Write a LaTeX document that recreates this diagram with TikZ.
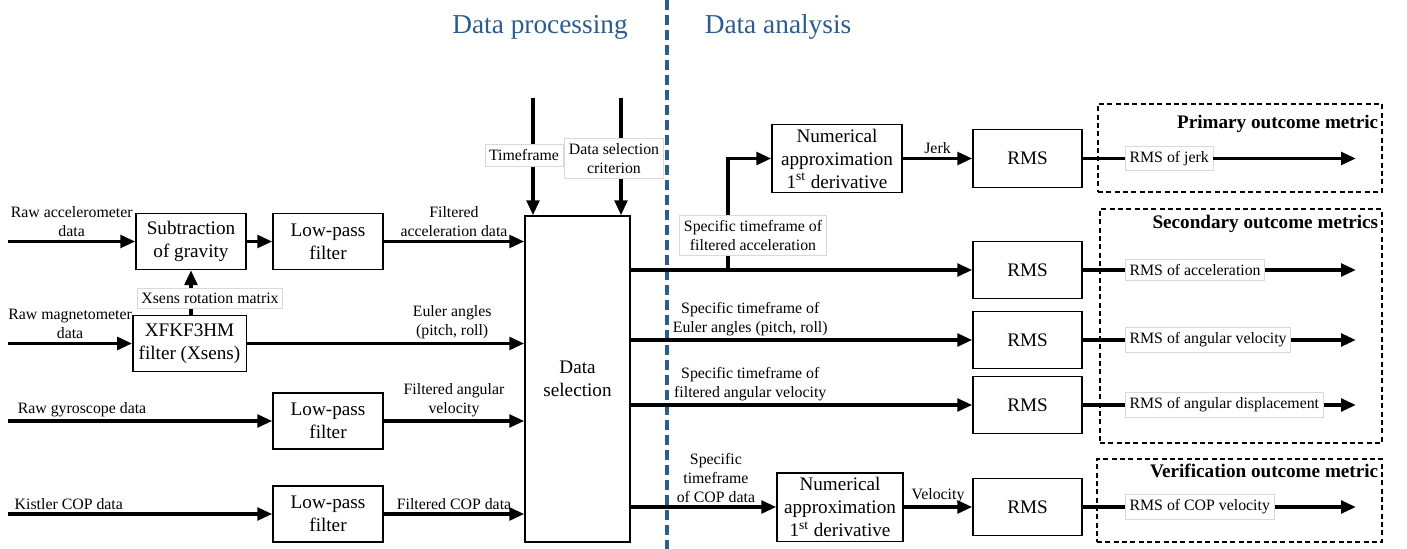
\documentclass[tikz,border=0pt]{standalone}
\usepackage{fontspec}
\setmainfont{Liberation Serif}
\usetikzlibrary{arrows.meta,positioning}
\definecolor{divblue}{RGB}{44,93,142}
\newcommand{\bxfont}{\rmfamily\fontsize{11.5}{13.8}\selectfont}
\newcommand{\lbfont}{\rmfamily\fontsize{9.5}{11.4}\selectfont}

\begin{document}
\begin{tikzpicture}[
    x=0.6pt, y=-0.6pt,
    box/.style={rectangle, draw, line width=0.8pt, align=center, inner sep=1pt, font=\bxfont, minimum width=66pt, minimum height=33.5pt},
    selbox/.style={box, minimum width=63pt, minimum height=195.6pt},
    numbox/.style={box, minimum width=78pt, minimum height=41pt},
    rmsbox/.style={box, minimum width=65.4pt, minimum height=34.5pt},
    lbl/.style={align=center, font=\lbfont, inner sep=1.5pt},
    tag/.style={lbl, draw=gray!30, line width=0.5pt, fill=white, inner xsep=2.5pt, inner ysep=3pt},
    metricbox/.style={draw, line width=0.8pt, dash pattern=on 3pt off 2pt, inner sep=0pt},
    grouptitle/.style={font=\bfseries\bxfont, anchor=north east, inner xsep=2.5pt, inner ysep=4pt},
    phase/.style={font=\rmfamily\fontsize{16.4}{19}\selectfont, text=divblue},
    divider/.style={draw=divblue, line width=2.4pt, dash pattern=on 6pt off 3pt},
    line/.style={line width=2.3pt},
    arrow/.style={-{Triangle[length=9pt,width=7.5pt]}, line width=2.3pt}
]
\useasboundingbox (0,0) rectangle (1407,549);

% Titles and divider
\node[phase] (dproc) at (540,27) {Data processing};
\node[phase] (danal) at (778,27) {Data analysis};
\coordinate (divtop) at (667,0);
\coordinate (divbot) at (667,549);
\draw[divider] (divtop) -- (divbot);

% Inputs
\coordinate (inacc) at (8,241.5);
\coordinate (inmag) at (8,343.5);
\coordinate (ingyr) at (8,421);
\coordinate (incop) at (8,514);

% Processing
\node[box] (sub) at (191,241.5) {Subtraction\\of gravity};
\node[box] (lp1) at (328,241.5) {Low-pass\\filter};
\node[box, minimum width=68pt] (xf) at (189.5,343.5) {XFKF3HM\\filter (Xsens)};
\node[box] (lp2) at (328,421) {Low-pass\\filter};
\node[box] (lp3) at (328,514) {Low-pass\\filter};
\node[tag] (xsrot) at (210,298.5) {Xsens rotation matrix};

% Data selection
\node[selbox] (sel) at (577.5,379) {Data\\selection};
\coordinate (tftop) at (533,98);
\coordinate (dctop) at (621,98);
\node[tag] (tf) at (524,155.5) {Timeframe};
\node[tag] (dc) at (614,158.5) {Data selection\\criterion};

% Analysis
\node[numbox] (num1) at (837,158.5) {Numerical\\approximation\\1\textsuperscript{st} derivative};
\node[numbox, minimum width=75.6pt] (num2) at (840,507) {Numerical\\approximation\\1\textsuperscript{st} derivative};
\node[rmsbox] (rms1) at (1027.5,158.5) {RMS};
\node[rmsbox] (rms2) at (1027.5,270) {RMS};
\node[rmsbox] (rms3) at (1027.5,340) {RMS};
\node[rmsbox] (rms4) at (1027.5,405) {RMS};
\node[rmsbox] (rms5) at (1027.5,507) {RMS};
\node[tag] (spacc) at (753,235.5) {Specific timeframe of\\filtered acceleration};
\coordinate (br) at (728,270);

% Outcome metrics
\node[metricbox, minimum width=170.4pt, minimum height=52.8pt] (prim) at (1240,148) {};
\node[metricbox, minimum width=169.2pt, minimum height=140.4pt] (secd) at (1241,326) {};
\node[metricbox, minimum width=171pt, minimum height=49.8pt] (verif) at (1239.5,500.5) {};
\node[grouptitle, yshift=-3pt] at (prim.north east) {Primary outcome metric};
\node[grouptitle] at (secd.north east) {Secondary outcome metrics};
\node[grouptitle, inner ysep=3pt] at (verif.north east) {Verification outcome metric};
\node[tag, anchor=west] (o1) at (1125,158.5) {RMS of jerk};
\node[tag, anchor=west] (o2) at (1125,270) {RMS of acceleration};
\node[tag, anchor=west] (o3) at (1125,340) {RMS of angular velocity};
\node[tag, anchor=west] (o4) at (1125,405) {RMS of angular displacement};
\node[tag, anchor=west] (o5) at (1125,507) {RMS of COP velocity};
\coordinate (e1) at (1356,158.5);
\coordinate (e2) at (1356,270);
\coordinate (e3) at (1356,340);
\coordinate (e4) at (1356,405);
\coordinate (e5) at (1356,507);

% Arrows: processing
\draw[arrow] (inacc) -- node[lbl, above] {Raw accelerometer\\data} (sub);
\draw[arrow] (sub) -- (lp1);
\draw[arrow] (lp1) -- node[lbl, above] {Filtered\\acceleration data} (lp1 -| sel.west);
\draw[arrow] (inmag) -- node[lbl, above] {Raw magnetometer\\data} (xf);
\draw[line] (xf.north -| sub) -- (xsrot.south -| sub);
\draw[arrow] (xsrot.north -| sub) -- (sub.south);
\draw[arrow] (xf) -- node[lbl, above, pos=0.74] {Euler angles\\(pitch, roll)} (xf -| sel.west);
\draw[arrow] (ingyr) -- node[lbl, above, pos=0.28] {Raw gyroscope data} (lp2);
\draw[arrow] (lp2) -- node[lbl, above] {Filtered angular\\velocity} (lp2 -| sel.west);
\draw[arrow] (incop) -- node[lbl, above, pos=0.23] {Kistler COP data} (lp3);
\draw[arrow] (lp3) -- node[lbl, above] {Filtered COP data} (lp3 -| sel.west);
\draw[line] (tftop) -- (tftop |- tf.north);
\draw[arrow] (tftop |- tf.south) -- (tftop |- sel.north);
\draw[line] (dctop) -- (dctop |- dc.north);
\draw[arrow] (dctop |- dc.south) -- (dctop |- sel.north);

% Arrows: analysis
\draw[arrow] (sel.east |- rms2) -- (rms2);
\draw[line] (br) -- (br |- spacc.south);
\draw[arrow] (br |- spacc.north) |- (num1);
\draw[arrow] (num1) -- node[lbl, above] {Jerk} (rms1);
\draw[arrow] (sel.east |- rms3) -- node[lbl, above, pos=0.35] {Specific timeframe of\\Euler angles (pitch, roll)} (rms3);
\draw[arrow] (sel.east |- rms4) -- node[lbl, above, pos=0.35] {Specific timeframe of\\filtered angular velocity} (rms4);
\draw[arrow] (sel.east |- num2) -- node[lbl, above, pos=0.585] {Specific\\timeframe\\of COP data} (num2);
\draw[arrow] (num2) -- node[lbl, above] {Velocity} (rms5);

% Outputs
\foreach \i in {1,...,5} {
    \draw[line] (rms\i) -- (o\i);
    \draw[arrow] (o\i) -- (e\i);
}

\end{tikzpicture}
\end{document}
